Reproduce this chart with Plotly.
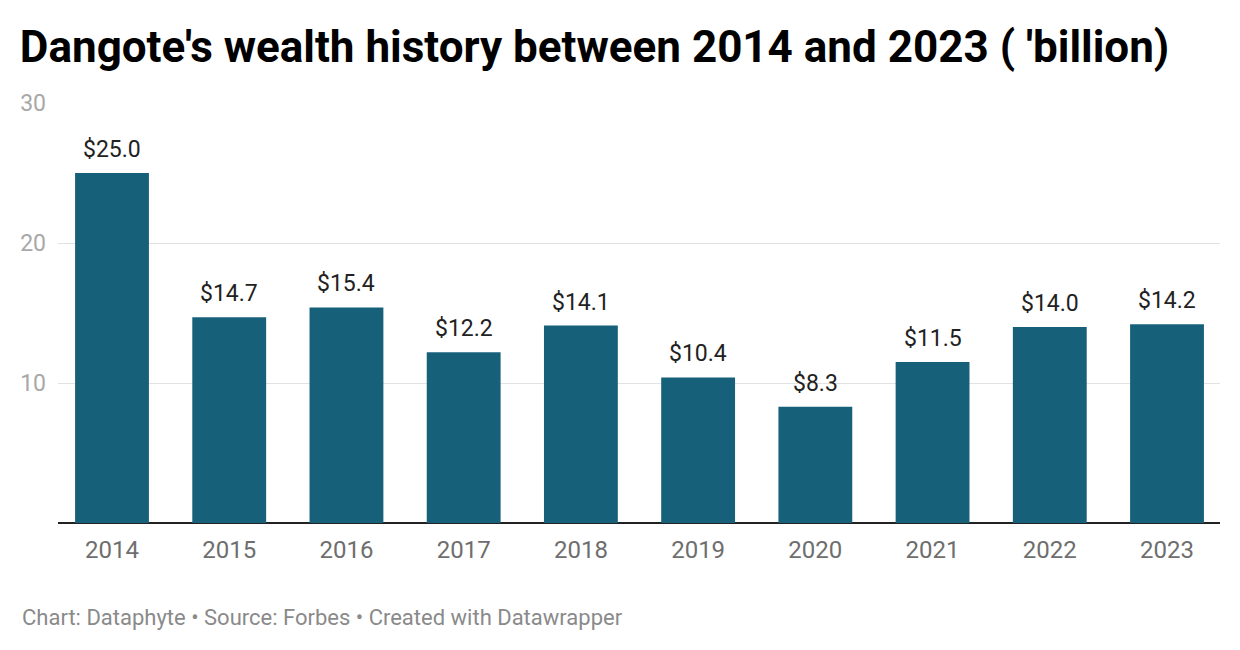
import plotly.graph_objects as go

years = ["2014", "2015", "2016", "2017", "2018", "2019", "2020", "2021", "2022", "2023"]
wealth = [25.0, 14.7, 15.4, 12.2, 14.1, 10.4, 8.3, 11.5, 14.0, 14.2]
y_ticks = [10, 20, 30]

x_idx = list(range(len(years)))

fig = go.Figure()
fig.add_trace(go.Bar(
    x=x_idx, y=wealth, width=0.63,
    marker=dict(color="#17607a", line=dict(width=0)),
    hoverinfo="skip",
))

for i, v in zip(x_idx, wealth):
    fig.add_annotation(
        x=i, y=v, text=f"${v:.1f}", showarrow=False,
        yanchor="bottom", yshift=8,
        font=dict(family="Roboto", size=23, color="#222222"),
    )

fig.update_layout(
    width=1240, height=650,
    margin=dict(l=58, r=20, t=103, b=127),
    paper_bgcolor="white", plot_bgcolor="white",
    showlegend=False,
    title=dict(
        text="<b>Dangote's wealth history between 2014 and 2023 ( 'billion)</b>",
        x=0.016, xanchor="left", y=0.928, yanchor="middle",
        font=dict(family="Roboto", size=44, color="#000000"),
    ),
    xaxis=dict(
        range=[-0.4607, 9.452], tickmode="array", tickvals=x_idx, ticktext=years,
        showgrid=False, zeroline=False, showline=False, ticks="",
        tickfont=dict(family="Roboto", size=24, color="#6e6e6e"),
        ticklabelstandoff=10, fixedrange=True,
    ),
    yaxis=dict(
        range=[0, 30], tickmode="array", tickvals=y_ticks, ticktext=[str(t) for t in y_ticks],
        showgrid=True, gridcolor="#e2e2e2", gridwidth=1,
        zeroline=True, zerolinecolor="#222222", zerolinewidth=2,
        showline=False, ticks="",
        tickfont=dict(family="Roboto", size=23, color="#a8a8a8"),
        ticklabelstandoff=11, fixedrange=True,
    ),
)

fig.add_annotation(
    xref="paper", yref="paper", x=-0.033, y=-0.224, xanchor="left", yanchor="middle",
    text="Chart: Dataphyte • Source: Forbes • Created with Datawrapper", showarrow=False,
    font=dict(family="Roboto", size=22, color="#8a8a8a"),
)

fig.write_html("out.html")
